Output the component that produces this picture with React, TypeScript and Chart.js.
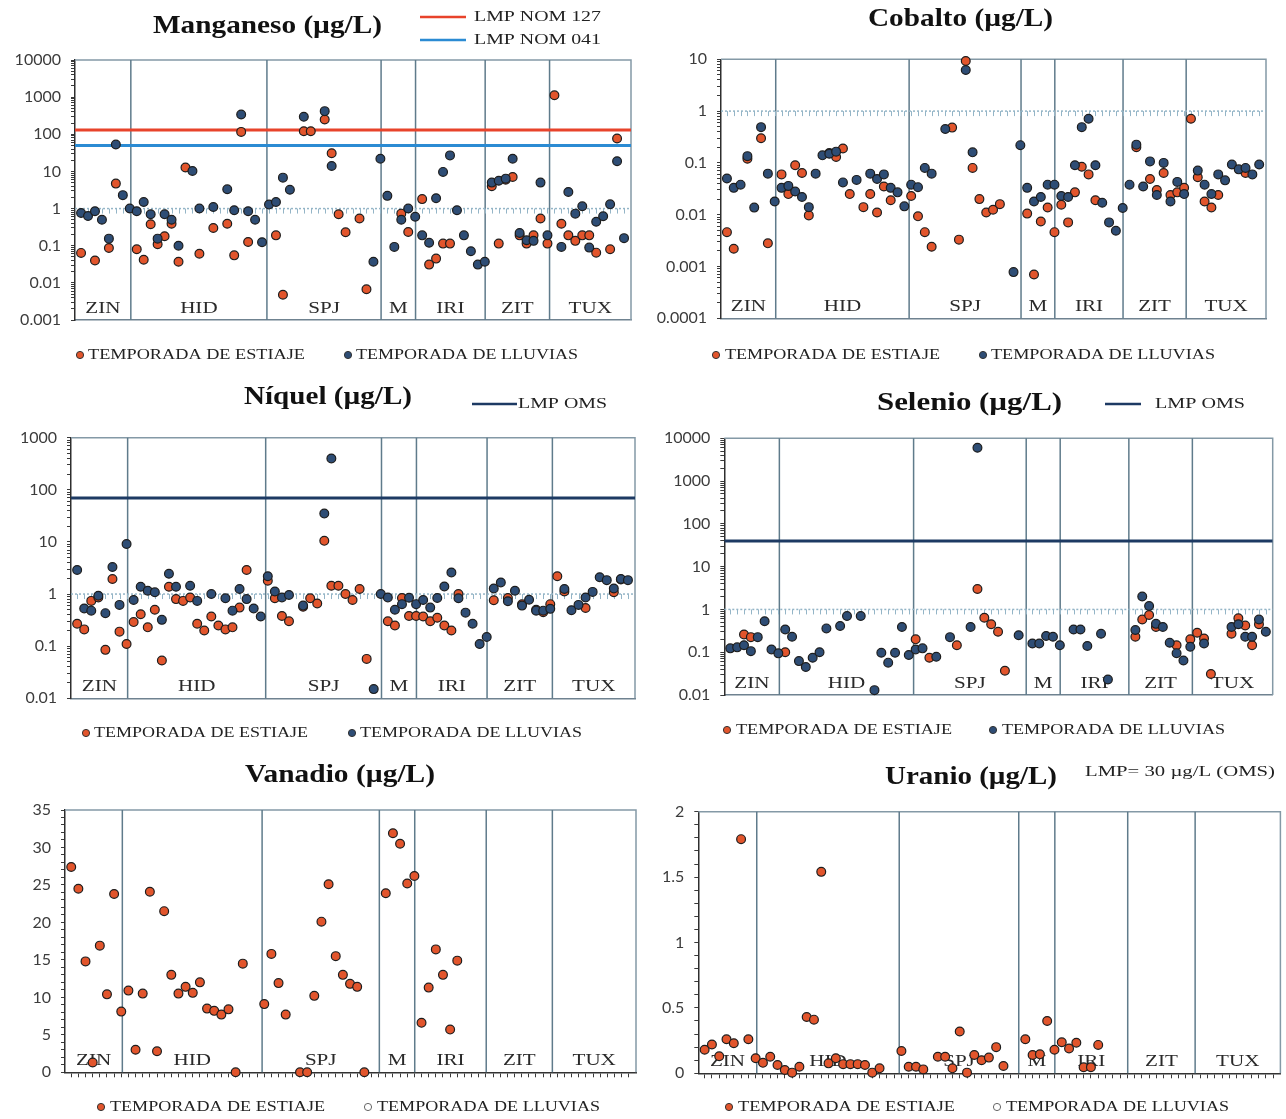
import React, { useEffect, useRef } from "react";
import { Chart, registerables } from "chart.js";

Chart.register(...registerables);

// ---------------- shared sample / group structure ----------------
const GROUP_LABELS = ["ZIN", "HID", "SPJ", "M", "IRI", "ZIT", "TUX"];
const GROUP_BOUNDS = [7.15, 26.7, 43.1, 48.05, 58.05, 67.3];
const X_MIN = -0.87;
const X_MAX = 79.0;
const SAMPLE_TICKS = Array.from({ length: 79 }, (_, i) => i);

const LEGEND_ESTIAJE = "TEMPORADA DE ESTIAJE";
const LEGEND_LLUVIAS = "TEMPORADA DE LLUVIAS";

// ---------------- y tick labels ----------------
const MN_Y_LABELS = [0.001, 0.01, 0.1, 1, 10, 100, 1000, 10000];
const CO_Y_LABELS = [0.0001, 0.001, 0.01, 0.1, 1, 10];
const NI_Y_LABELS = [0.01, 0.1, 1, 10, 100, 1000];
const SE_Y_LABELS = [0.01, 0.1, 1, 10, 100, 1000, 10000];
const VA_Y_LABELS = [0, 5, 10, 15, 20, 25, 30, 35];
const UR_Y_LABELS = [0, 0.5, 1, 1.5, 2];

// ---------------- limits ----------------
const MN_LMP_127 = 130;
const MN_LMP_041 = 50;
const NI_LMP_OMS = 70;
const SE_LMP_OMS = 40;

// ---------------- data (index = sample position) ----------------
const MN_ESTIAJE = [
  0.064, null, 0.04, null, 0.087, 4.7, null, null, 0.08, 0.042,
  0.38, 0.11, 0.18, 0.39, 0.037, 12.7, null, 0.061, null, 0.3,
  null, 0.39, 0.055, 116, 0.126, null, null, null, 0.19, 0.0048,
  null, null, 121, 121, null, 250, 31, 0.7, 0.23, null,
  0.54, 0.0067, null, null, null, null, 0.73, 0.235, null, 1.8,
  0.031, 0.045, 0.114, 0.114, null, null, null, null, null, 4.0,
  0.114, 6.0, 7.1, 0.19, 0.114, 0.19, 0.54, 0.114, 1120, 0.39,
  0.19, 0.135, 0.19, 0.19, 0.065, null, 0.08, 77, null,
];
const MN_LLUVIAS = [
  0.76, 0.63, 0.85, 0.5, 0.155, 53, 2.3, 1.0, 0.85, 1.5,
  0.7, 0.155, 0.7, 0.5, 0.1, null, 10.3, 1.0, null, 1.1,
  null, 3.3, 0.9, 340, 0.85, 0.5, 0.124, 1.28, 1.5, 6.8,
  3.2, null, 295, null, null, 420, 14, null, null, null,
  null, null, 0.037, 22, 2.2, 0.093, 0.5, 1.0, 0.6, 0.19,
  0.12, 1.9, 9.7, 27, 0.9, 0.19, 0.071, 0.031, 0.037, 5.0,
  5.6, 6.4, 22, 0.22, 0.14, 0.135, 5.0, 0.19, null, 0.093,
  2.8, 0.73, 1.15, 0.089, 0.44, 0.62, 1.3, 18.8, 0.16,
];

const CO_ESTIAJE = [
  0.0046, 0.0022, null, 0.12, null, 0.3, 0.0028, null, 0.06, 0.025,
  0.09, 0.064, 0.0097, null, null, 0.155, 0.13, 0.19, 0.025, null,
  0.014, 0.025, 0.011, 0.035, 0.019, null, null, 0.023, 0.0093, 0.0046,
  0.0024, null, null, 0.48, 0.0033, 9.3, 0.08, 0.02, 0.011, 0.0125,
  0.016, null, null, null, 0.0105, 0.0007, 0.0074, 0.0138, 0.0046, 0.0156,
  0.0071, 0.027, 0.084, 0.06, 0.019, null, null, null, null, null,
  0.2, null, 0.049, 0.03, 0.064, 0.024, 0.027, 0.033, 0.71, 0.053,
  0.018, 0.0138, 0.024, null, null, null, 0.064, null, null,
];
const CO_LLUVIAS = [
  0.05, 0.033, 0.038, 0.135, 0.0137, 0.49, 0.062, 0.018, 0.033, 0.036,
  0.028, 0.022, 0.014, 0.062, 0.14, 0.15, 0.165, 0.042, null, 0.047,
  null, 0.062, 0.049, 0.06, 0.033, 0.027, 0.0145, 0.038, 0.034, 0.08,
  0.062, null, 0.45, null, null, 6.2, 0.16, null, null, null,
  null, null, 0.00078, 0.22, 0.033, 0.018, 0.022, 0.038, 0.038, 0.023,
  0.022, 0.09, 0.49, 0.71, 0.09, 0.017, 0.0071, 0.0049, 0.0135, 0.038,
  0.225, 0.035, 0.107, 0.024, 0.1, 0.018, 0.043, 0.025, null, 0.071,
  0.038, 0.025, 0.06, 0.046, 0.093, 0.075, 0.08, 0.06, 0.093,
];

const NI_ESTIAJE = [
  0.27, 0.21, 0.74, 0.86, 0.085, 1.94, 0.19, 0.11, 0.29, 0.41,
  0.23, 0.5, 0.053, 1.38, 0.8, 0.74, 0.86, 0.27, 0.2, 0.37,
  0.25, 0.21, 0.23, 0.55, 2.9, null, null, 1.8, 0.83, 0.38,
  0.3, null, 0.57, 0.83, 0.66, 10.5, 1.44, 1.44, 1.0, 0.77,
  1.25, 0.057, null, null, 0.3, 0.25, 0.84, 0.38, 0.38, 0.37,
  0.3, 0.35, 0.25, 0.2, 1.0, null, null, null, null, 0.76,
  null, 0.84, null, 0.64, null, 0.5, 0.45, 0.64, 2.2, 1.12,
  null, null, 0.54, null, null, null, 1.08, 1.9, null,
];
const NI_LLUVIAS = [
  2.9, 0.53, 0.48, 0.93, 0.43, 3.3, 0.62, 9.1, 0.77, 1.38,
  1.16, 1.08, 0.32, 2.45, 1.38, null, 1.44, 0.74, null, 1.0,
  null, 0.83, 0.48, 1.25, 0.8, 0.53, 0.37, 2.2, 1.12, 0.86,
  0.96, null, 0.6, null, null, 35, 400, null, null, null,
  null, null, 0.015, 1.0, 0.86, 0.5, 0.64, 0.85, 0.64, 0.77,
  0.55, 0.84, 1.4, 2.6, 0.83, 0.44, 0.27, 0.11, 0.15, 1.28,
  1.67, 0.73, 1.16, 0.6, 0.78, 0.48, 0.48, 0.52, null, 1.25,
  0.49, 0.62, 0.86, 1.1, 2.1, 1.85, 1.28, 1.94, 1.85,
];

const SE_ESTIAJE = [
  null, null, 0.26, 0.225, null, null, null, null, 0.1, null,
  null, null, null, null, null, null, null, null, null, null,
  null, null, null, null, null, null, null, 0.2, null, 0.074,
  null, null, null, 0.146, null, null, 3.0, 0.64, 0.45, 0.3,
  0.037, null, null, null, null, null, null, null, null, null,
  null, null, null, null, null, null, null, null, null, 0.23,
  0.58, 0.74, 0.39, null, null, 0.145, null, 0.2, 0.285, 0.21,
  0.031, null, null, 0.27, 0.62, 0.42, 0.146, 0.45, null,
];
const SE_LLUVIAS = [
  0.123, 0.13, 0.146, 0.106, 0.225, 0.53, 0.116, 0.094, 0.34, 0.23,
  0.062, 0.045, 0.074, 0.1, 0.36, null, 0.41, 0.7, null, 0.7,
  null, 0.013, 0.097, 0.057, 0.097, 0.39, 0.086, 0.116, 0.123, null,
  0.078, null, 0.225, null, null, 0.39, 6000, null, null, null,
  null, null, 0.25, null, 0.16, 0.16, 0.24, 0.23, 0.146, null,
  0.34, 0.34, 0.14, null, 0.27, 0.023, null, null, null, 0.33,
  2.0, 1.2, 0.46, 0.39, 0.166, 0.095, 0.064, 0.134, null, 0.16,
  null, null, null, 0.39, 0.45, 0.23, 0.23, 0.58, 0.3,
];

const VA_ESTIAJE = [
  27.4, 24.5, 14.8, 1.3, 16.9, 10.4, 23.8, 8.1, 10.9, 3.0,
  10.5, 24.1, 2.8, 21.5, 13.0, 10.5, 11.4, 10.6, 12.0, 8.5,
  8.2, 7.7, 8.4, 0, 14.5, null, null, 9.1, 15.8, 11.9,
  7.7, null, 0, 0, 10.2, 20.1, 25.1, 15.5, 13.0, 11.8,
  11.4, 0, null, null, 23.9, 31.9, 30.5, 25.2, 26.2, 6.6,
  11.3, 16.4, 13.0, 5.7, 14.9,
];
const VA_LLUVIAS: (number | null)[] = [];

const UR_ESTIAJE = [
  0.18, 0.22, 0.13, 0.26, 0.23, 1.79, 0.26, 0.115, 0.08, 0.127,
  0.064, 0.025, 0.005, 0.05, 0.43, 0.41, 1.54, 0.076, 0.115, 0.07,
  0.07, 0.07, 0.064, 0.005, 0.038, null, null, 0.17, 0.05, 0.05,
  0.03, null, 0.127, 0.127, 0.038, 0.32, 0.005, 0.14, 0.1, 0.12,
  0.2, 0.056, null, null, 0.26, 0.14, 0.145, 0.4, 0.18, 0.237,
  0.19, 0.234, 0.046, 0.046, 0.217,
];
const UR_LLUVIAS: (number | null)[] = [];

// ---------------- styles ----------------
const ORANGE = "#e2552c";
const BLUE = "#2e4d75";
const POINT_EDGE = "#1d1d1d";
const RED_LMP = "#e8432b";
const BLUE_LMP = "#2b8bd3";
const NAVY_LMP = "#1d3a63";
const FRAME = "#8499a6";
const DIVIDER = "#5f7b8b";
const REF_LINE = "#94b5c7";
const SERIF = '"Liberation Serif", "Times New Roman", serif';

type LmpItem = { text: string; color: string | null; line: [number, number] | null; text2: [number, number]; y: number };
type LegItem = { dotX: number; text: string; t: [number, number]; hollow: boolean; color: string };
type PanelSpec = {
  title: string;
  titleSpan: [number, number, number];
  box: [number, number, number, number];
  plot: [number, number, number, number];
  log: boolean;
  yMin: number;
  yMax: number;
  yLabels: number[];
  yStep?: number;
  estiaje: (number | null)[];
  lluvias: (number | null)[];
  limits: { value: number; color: string }[];
  lmp: LmpItem[];
  legendY: number;
  legend: LegItem[];
};

const PANELS: PanelSpec[] = [
  {
    title: "Manganeso (µg/L)", titleSpan: [153, 382, 27],
    box: [0, 0, 643, 378], plot: [75, 60, 631, 320],
    log: true, yMin: 0.001, yMax: 10000, yLabels: MN_Y_LABELS,
    estiaje: MN_ESTIAJE, lluvias: MN_LLUVIAS,
    limits: [{ value: MN_LMP_127, color: RED_LMP }, { value: MN_LMP_041, color: BLUE_LMP }],
    lmp: [
      { text: "LMP NOM 127", color: RED_LMP, line: [420, 466], text2: [474, 601], y: 17 },
      { text: "LMP NOM 041", color: BLUE_LMP, line: [420, 466], text2: [474, 601], y: 40 },
    ],
    legendY: 355,
    legend: [
      { dotX: 80, text: LEGEND_ESTIAJE, t: [88, 305], hollow: false, color: ORANGE },
      { dotX: 348, text: LEGEND_LLUVIAS, t: [356, 578], hollow: false, color: BLUE },
    ],
  },
  {
    title: "Cobalto (µg/L)", titleSpan: [868, 1053, 20],
    box: [643, 0, 643, 378], plot: [721, 59.3, 1266, 318.3],
    log: true, yMin: 0.0001, yMax: 10, yLabels: CO_Y_LABELS,
    estiaje: CO_ESTIAJE, lluvias: CO_LLUVIAS,
    limits: [], lmp: [],
    legendY: 355,
    legend: [
      { dotX: 716, text: LEGEND_ESTIAJE, t: [725, 940], hollow: false, color: ORANGE },
      { dotX: 983, text: LEGEND_LLUVIAS, t: [991, 1215], hollow: false, color: BLUE },
    ],
  },
  {
    title: "Níquel (µg/L)", titleSpan: [244, 412, 398],
    box: [0, 378, 643, 374], plot: [71, 437.7, 635, 698.3],
    log: true, yMin: 0.01, yMax: 1000, yLabels: NI_Y_LABELS,
    estiaje: NI_ESTIAJE, lluvias: NI_LLUVIAS,
    limits: [{ value: NI_LMP_OMS, color: NAVY_LMP }],
    lmp: [{ text: "LMP OMS", color: NAVY_LMP, line: [472, 517], text2: [518, 607], y: 404 }],
    legendY: 733,
    legend: [
      { dotX: 86, text: LEGEND_ESTIAJE, t: [94, 308], hollow: false, color: ORANGE },
      { dotX: 352, text: LEGEND_LLUVIAS, t: [360, 582], hollow: false, color: BLUE },
    ],
  },
  {
    title: "Selenio (µg/L)", titleSpan: [877, 1062, 404],
    box: [643, 378, 643, 374], plot: [724.3, 438.3, 1272.7, 695],
    log: true, yMin: 0.01, yMax: 10000, yLabels: SE_Y_LABELS,
    estiaje: SE_ESTIAJE, lluvias: SE_LLUVIAS,
    limits: [{ value: SE_LMP_OMS, color: NAVY_LMP }],
    lmp: [{ text: "LMP OMS", color: NAVY_LMP, line: [1105, 1141], text2: [1155, 1245], y: 404 }],
    legendY: 730,
    legend: [
      { dotX: 727, text: LEGEND_ESTIAJE, t: [736, 952], hollow: false, color: ORANGE },
      { dotX: 993, text: LEGEND_LLUVIAS, t: [1002, 1225], hollow: false, color: BLUE },
    ],
  },
  {
    title: "Vanadio (µg/L)", titleSpan: [245, 435, 776],
    box: [0, 752, 643, 367], plot: [65, 810, 636, 1072.3],
    log: false, yMin: 0, yMax: 35, yLabels: VA_Y_LABELS, yStep: 1,
    estiaje: VA_ESTIAJE, lluvias: VA_LLUVIAS,
    limits: [], lmp: [],
    legendY: 1107,
    legend: [
      { dotX: 101, text: LEGEND_ESTIAJE, t: [110, 325], hollow: false, color: ORANGE },
      { dotX: 368, text: LEGEND_LLUVIAS, t: [377, 600], hollow: true, color: "#ffffff" },
    ],
  },
  {
    title: "Uranio (µg/L)", titleSpan: [885, 1057, 778],
    box: [643, 752, 643, 367], plot: [698.3, 811.7, 1281.7, 1073.3],
    log: false, yMin: 0, yMax: 2, yLabels: UR_Y_LABELS, yStep: 0.1,
    estiaje: UR_ESTIAJE, lluvias: UR_LLUVIAS,
    limits: [],
    lmp: [{ text: "LMP= 30 µg/L (OMS)", color: null, line: null, text2: [1085, 1275], y: 772 }],
    legendY: 1107,
    legend: [
      { dotX: 729, text: LEGEND_ESTIAJE, t: [738, 955], hollow: false, color: ORANGE },
      { dotX: 997, text: LEGEND_LLUVIAS, t: [1006, 1229], hollow: true, color: "#ffffff" },
    ],
  },
];

// ---------------- helpers ----------------
function buildTickValues(spec: PanelSpec): number[] {
  const out: number[] = [];
  if (spec.log) {
    spec.yLabels.forEach((d, i) => {
      out.push(d);
      if (i < spec.yLabels.length - 1) {
        for (let k = 2; k <= 9; k++) out.push(parseFloat((d * k).toPrecision(6)));
      }
    });
  } else {
    const step = spec.yStep || 1;
    const n = Math.round((spec.yMax - spec.yMin) / step);
    for (let k = 0; k <= n; k++) out.push(parseFloat((spec.yMin + k * step).toPrecision(6)));
  }
  return out;
}

function stretchText(ctx: CanvasRenderingContext2D, text: string, x1: number, x2: number, yMid: number, font: string, color: string) {
  ctx.save();
  ctx.font = font;
  ctx.fillStyle = color;
  ctx.textAlign = "left";
  ctx.textBaseline = "middle";
  const w = ctx.measureText(text).width || 1;
  ctx.translate(x1, yMid);
  ctx.scale((x2 - x1) / w, 1);
  ctx.fillText(text, 0, 0);
  ctx.restore();
}

function centerText(ctx: CanvasRenderingContext2D, text: string, cx: number, baseline: number, font: string, color: string, sx: number) {
  ctx.save();
  ctx.font = font;
  ctx.fillStyle = color;
  ctx.textAlign = "center";
  ctx.textBaseline = "alphabetic";
  ctx.translate(cx, baseline);
  ctx.scale(sx, 1);
  ctx.fillText(text, 0, 0);
  ctx.restore();
}

function makeDecor(spec: PanelSpec) {
  const [bx, by] = spec.box;
  return {
    id: "panelDecor",
    beforeDatasetsDraw(chart: any) {
      const { ctx, chartArea: a, scales } = chart;
      const xs = scales.x;
      const ys = scales.y;
      ctx.save();
      // frame (top and right)
      ctx.strokeStyle = FRAME;
      ctx.lineWidth = 1.5;
      ctx.beginPath();
      ctx.moveTo(a.left, a.top);
      ctx.lineTo(a.right, a.top);
      ctx.lineTo(a.right, a.bottom);
      ctx.stroke();
      // group dividers
      ctx.strokeStyle = DIVIDER;
      ctx.lineWidth = 1.5;
      GROUP_BOUNDS.forEach((b) => {
        const x = xs.getPixelForValue(b);
        ctx.beginPath();
        ctx.moveTo(x, a.top);
        ctx.lineTo(x, a.bottom);
        ctx.stroke();
      });
      // horizontal axis crossing at 1 (log panels)
      if (spec.log) {
        const y = ys.getPixelForValue(1);
        ctx.strokeStyle = REF_LINE;
        ctx.lineWidth = 1.5;
        ctx.setLineDash([2, 2]);
        ctx.beginPath();
        ctx.moveTo(a.left, y);
        ctx.lineTo(a.right, y);
        ctx.stroke();
        ctx.setLineDash([]);
        ctx.lineWidth = 1;
        SAMPLE_TICKS.forEach((i) => {
          const x = Math.round(xs.getPixelForValue(i)) + 0.5;
          ctx.beginPath();
          ctx.moveTo(x, y);
          ctx.lineTo(x, y + 5);
          ctx.stroke();
        });
      }
      // group labels
      const edges = [X_MIN, ...GROUP_BOUNDS, X_MAX];
      GROUP_LABELS.forEach((g, i) => {
        const cx = (xs.getPixelForValue(edges[i]) + xs.getPixelForValue(edges[i + 1])) / 2;
        centerText(ctx, g, cx, a.bottom - 7, `17px ${SERIF}`, "#2a2a2a", 1.24);
      });
      ctx.restore();
    },
    afterDraw(chart: any) {
      const ctx: CanvasRenderingContext2D = chart.ctx;
      ctx.save();
      // title
      const [t1, t2, ty] = spec.titleSpan;
      stretchText(ctx, spec.title, t1 - bx, t2 - bx, ty - by, `bold 25px ${SERIF}`, "#111111");
      // limit legends
      spec.lmp.forEach((m) => {
        if (m.line && m.color) {
          ctx.strokeStyle = m.color;
          ctx.lineWidth = 2.5;
          ctx.beginPath();
          ctx.moveTo(m.line[0] - bx, m.y - by);
          ctx.lineTo(m.line[1] - bx, m.y - by);
          ctx.stroke();
        }
        stretchText(ctx, m.text, m.text2[0] - bx, m.text2[1] - bx, m.y - by, `15px ${SERIF}`, "#222222");
      });
      // bottom legend
      spec.legend.forEach((l) => {
        ctx.beginPath();
        ctx.arc(l.dotX - bx, spec.legendY - by, 3.6, 0, Math.PI * 2);
        ctx.fillStyle = l.color;
        ctx.fill();
        ctx.lineWidth = 1;
        ctx.strokeStyle = l.hollow ? "#666666" : "#333333";
        ctx.stroke();
        stretchText(ctx, l.text, l.t[0] - bx, l.t[1] - bx, spec.legendY - by, `15px ${SERIF}`, "#222222");
      });
      ctx.restore();
    },
  };
}

function toPoints(arr: (number | null)[]) {
  const pts: { x: number; y: number }[] = [];
  arr.forEach((v, i) => {
    if (v !== null && v !== undefined) pts.push({ x: i, y: v });
  });
  return pts;
}

function Panel({ spec }: { spec: PanelSpec }) {
  const ref = useRef<HTMLCanvasElement | null>(null);
  useEffect(() => {
    const canvas = ref.current;
    if (!canvas) return;
    const [bx, by, bw, bh] = spec.box;
    const [pl, pt, pr, pb] = spec.plot;
    const tickValues = buildTickValues(spec);
    const labelFor = (v: number) => {
      const m = spec.yLabels.find((l) => Math.abs(l - v) <= Math.abs(l) * 1e-9 + 1e-12);
      return m === undefined ? "" : String(m);
    };
    const datasets: any[] = [];
    spec.limits.forEach((l) => {
      datasets.push({
        label: "LMP",
        data: [{ x: X_MIN, y: l.value }, { x: X_MAX, y: l.value }],
        showLine: true,
        borderColor: l.color,
        backgroundColor: l.color,
        borderWidth: 3,
        pointRadius: 0,
        order: 5,
      });
    });
    datasets.push({
      label: LEGEND_ESTIAJE,
      data: toPoints(spec.estiaje),
      backgroundColor: ORANGE,
      borderColor: POINT_EDGE,
      borderWidth: 1.2,
      pointRadius: 4.4,
      order: 2,
      clip: false,
    });
    datasets.push({
      label: LEGEND_LLUVIAS,
      data: toPoints(spec.lluvias),
      backgroundColor: BLUE,
      borderColor: POINT_EDGE,
      borderWidth: 1.2,
      pointRadius: 4.4,
      order: 1,
      clip: false,
    });

    const chart = new Chart(canvas, {
      type: "scatter",
      data: { datasets },
      options: {
        responsive: false,
        animation: false,
        events: [],
        layout: {
          padding: { left: 0, top: pt - by, right: bx + bw - pr, bottom: by + bh - pb },
        },
        plugins: {
          legend: { display: false },
          title: { display: false },
          tooltip: { enabled: false },
        },
        scales: {
          x: {
            type: "linear",
            min: X_MIN,
            max: X_MAX,
            afterBuildTicks: (s: any) => {
              s.ticks = SAMPLE_TICKS.map((v) => ({ value: v }));
            },
            afterFit: (s: any) => {
              s.height = 0;
            },
            ticks: { display: false },
            grid: {
              display: !spec.log,
              drawOnChartArea: false,
              drawTicks: true,
              tickLength: 5,
              color: "#3a3a3a",
              lineWidth: 1,
            },
            border: { display: true, color: spec.log ? "#6f8290" : "#333333", width: 1.5 },
          },
          y: {
            type: spec.log ? "logarithmic" : "linear",
            min: spec.yMin,
            max: spec.yMax,
            afterBuildTicks: (s: any) => {
              s.ticks = tickValues.map((v) => ({ value: v, major: false }));
            },
            afterFit: (s: any) => {
              s.width = pl - bx;
            },
            ticks: {
              autoSkip: false,
              padding: 10,
              color: "#3c3c3c",
              font: { family: "Lato, 'Open Sans', sans-serif", size: 16 },
              callback: (v: any) => labelFor(Number(v)),
            },
            grid: {
              display: true,
              drawOnChartArea: false,
              drawTicks: true,
              tickLength: 4,
              color: "#3a3a3a",
              lineWidth: 1,
            },
            border: { display: true, color: "#2e2e2e", width: 1.5 },
          },
        },
      } as any,
      plugins: [makeDecor(spec)],
    });
    return () => chart.destroy();
  }, [spec]);
  const [bx, by, bw, bh] = spec.box;
  return (
    <canvas
      ref={ref}
      width={bw}
      height={bh}
      style={{ position: "absolute", left: bx, top: by, width: bw, height: bh }}
    />
  );
}

export default function App() {
  return (
    <div
      style={{
        position: "absolute",
        left: 0,
        top: 0,
        width: 1286,
        height: 1119,
        overflow: "hidden",
        background: "#ffffff",
      }}
    >
      {PANELS.map((p) => (
        <Panel key={p.title} spec={p} />
      ))}
    </div>
  );
}
